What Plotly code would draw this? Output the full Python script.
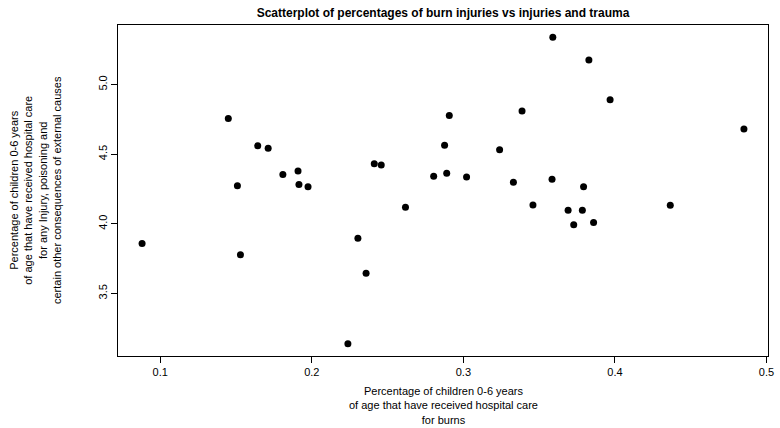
import plotly.graph_objects as go

burns = [0.088, 0.1449, 0.1509, 0.1529, 0.1643, 0.1712, 0.1809, 0.1909, 0.1915, 0.1975,
         0.2238, 0.2304, 0.2358, 0.2412, 0.2458, 0.2618, 0.2804, 0.2876, 0.2890, 0.2907,
         0.3021, 0.3239, 0.3330, 0.3387, 0.3459, 0.3585, 0.3590, 0.3691, 0.3728, 0.3785,
         0.3793, 0.3828, 0.3859, 0.3968, 0.4365, 0.4851]
injuries = [3.859, 4.756, 4.273, 3.778, 4.560, 4.543, 4.354, 4.380, 4.282, 4.266,
            3.139, 3.897, 3.646, 4.431, 4.423, 4.120, 4.342, 4.565, 4.364, 4.778,
            4.337, 4.533, 4.299, 4.811, 4.136, 4.321, 5.340, 4.098, 3.993, 4.098,
            4.266, 5.177, 4.010, 4.892, 4.134, 4.682]

x_ticks = [0.1, 0.2, 0.3, 0.4, 0.5]
x_tick_labels = ["0.1", "0.2", "0.3", "0.4", "0.5"]
y_ticks = [3.5, 4.0, 4.5, 5.0]
y_tick_labels = ["3.5", "4.0", "4.5", "5.0"]

title = "Scatterplot of percentages of burn injuries vs injuries and trauma"
x_title = "Percentage of children 0-6 years<br>of age that have received hospital care<br>for burns"
y_title = ("Percentage of children 0-6 years<br>of age that have received hospital care"
           "<br>for any Injury, poisoning and<br>certain other consequences of external causes")


def r_range(v):
    lo, hi = min(v), max(v)
    pad = 0.04 * (hi - lo)
    return [lo - pad, hi + pad]


font = "Liberation Sans, Arial, sans-serif"

fig = go.Figure(go.Scatter(
    x=burns, y=injuries, mode="markers",
    marker=dict(size=7, color="black", line=dict(width=0)),
    hoverinfo="skip",
))

fig.update_layout(
    width=780, height=428,
    margin=dict(l=118, r=12, t=25, b=72),
    paper_bgcolor="white", plot_bgcolor="white",
    showlegend=False,
    title=dict(text="<b>" + title + "</b>", x=(118 + 768) / 2 / 780, xanchor="center",
               y=1 - 13 / 428, yanchor="middle",
               font=dict(family=font, size=12, color="black")),
)

axis_common = dict(showgrid=False, zeroline=False, showline=True, linecolor="black",
                   linewidth=1, mirror=True, ticks="outside", ticklen=6,
                   tickcolor="black", tickwidth=1, automargin=False)

fig.update_xaxes(range=r_range(burns), tickvals=x_ticks, ticktext=x_tick_labels,
                 tickfont=dict(family=font, size=11, color="black"), **axis_common)
fig.update_yaxes(range=r_range(injuries), tickvals=y_ticks, ticktext=y_tick_labels,
                 tickangle=-90,
                 tickfont=dict(family=font, size=11, color="black"), **axis_common)

fig.add_annotation(text=x_title, xref="paper", yref="paper", x=0.5, y=0,
                   xanchor="center", yanchor="middle", yshift=-49, showarrow=False,
                   align="center", font=dict(family=font, size=11, color="black"))
fig.add_annotation(text=y_title, xref="paper", yref="paper", x=(35.5 - 118) / 650,
                   y=0.5, xanchor="center", yanchor="middle", textangle=-90,
                   showarrow=False, align="center",
                   font=dict(family=font, size=11, color="black"))

fig.write_html("out.html", config={"displayModeBar": False},
               post_script="document.body.style.margin='0';document.body.style.padding='0';")
